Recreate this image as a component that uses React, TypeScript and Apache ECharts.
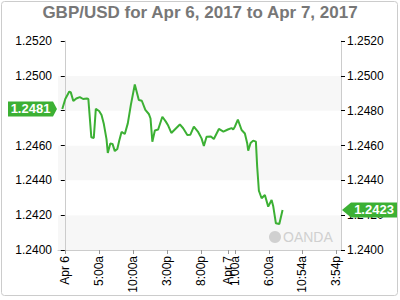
import React, { useEffect, useRef } from "react";
import * as echarts from "echarts";

// hours since Apr 6, 2017 00:00
const times = [-0.37,0.07,0.66,0.88,1.25,1.69,2.21,2.69,3.24,3.46,3.90,4.26,4.56,5.04,5.40,5.74,6.13,6.32,6.69,7.01,7.35,7.72,7.99,8.34,8.82,9.26,9.71,10.29,10.88,11.32,11.84,12.35,12.60,12.87,13.24,13.72,14.34,14.85,15.15,15.66,16.91,17.40,18.01,18.46,18.97,19.56,20.10,20.44,20.84,21.47,21.91,22.65,23.31,23.97,24.51,24.75,25.00,25.44,25.99,26.47,26.81,26.96,27.31,27.69,28.09,28.28,28.53,28.93,29.41,29.90,30.40,30.63,31.03,31.53,32.01];
const rates = [1.2481,1.24867,1.2491,1.24905,1.24855,1.2487,1.24878,1.24867,1.2487,1.24867,1.24647,1.24643,1.2481,1.24798,1.24775,1.24723,1.24637,1.24557,1.24611,1.24609,1.24568,1.2458,1.24626,1.24678,1.24666,1.24727,1.24833,1.2495,1.24861,1.24857,1.24804,1.24781,1.24755,1.24622,1.24686,1.24692,1.24765,1.24737,1.24718,1.24672,1.24721,1.24699,1.2466,1.24662,1.24708,1.2468,1.24641,1.24597,1.2465,1.24652,1.24637,1.24695,1.2468,1.24692,1.247,1.24692,1.24708,1.24749,1.24689,1.24669,1.24613,1.2457,1.24614,1.24628,1.24622,1.24478,1.2434,1.24297,1.24316,1.24249,1.24287,1.24253,1.24153,1.24149,1.2423];
const xTickHours = [0, 5, 10, 15, 20, 24, 25, 30, 34.9, 39.9];
const xTickLabels = ["Apr 6", "5:00a", "10:00a", "3:00p", "8:00p", "Apr 7", "1:00a", "6:00a", "10:54a", "3:54p"];
const yMin = 1.24;
const yMax = 1.252;
const yStep = 0.002;
const title = "GBP/USD for Apr 6, 2017 to Apr 7, 2017";

const FONT = "'Liberation Sans', Arial, sans-serif";
const GREEN = "#3cb034";

export default function App() {
  const ref = useRef<HTMLDivElement>(null);
  useEffect(() => {
    document.body.style.margin = "0";
    const chart = echarts.init(ref.current!, null, { renderer: "svg" });
    const yAxisCommon = {
      type: "value",
      min: yMin,
      max: yMax,
      interval: yStep,
      axisLine: { show: true, lineStyle: { color: "#cccccc" } },
      axisTick: { show: true, length: 4, lineStyle: { color: "#000" } },
      splitLine: { show: false },
      axisLabel: {
        color: "#000",
        fontSize: 12,
        fontFamily: FONT,
        margin: 6,
        formatter: (v: number) => v.toFixed(4),
      },
    };
    const fmtX = (v: number) => {
      const i = xTickHours.findIndex((h) => Math.abs(h - v) < 1e-6);
      return i >= 0 ? xTickLabels[i] : "";
    };
    chart.setOption({
      animation: false,
      title: {
        text: title,
        left: "center",
        top: 0,
        padding: [4, 5],
        textStyle: { color: "#777777", fontSize: 17, fontWeight: "bold", fontFamily: FONT },
      },
      grid: { left: 58, right: 59, top: 41, bottom: 50 },
      xAxis: {
        type: "value",
        min: -1,
        max: 40.6,
        axisLine: { show: true, lineStyle: { color: "#cccccc" } },
        axisTick: { show: true, length: 4, customValues: xTickHours, lineStyle: { color: "#999" } },
        splitLine: { show: false },
        axisLabel: {
          customValues: xTickHours,
          rotate: 90,
          color: "#000",
          fontSize: 12,
          fontFamily: FONT,
          margin: 6,
          formatter: fmtX,
        },
      },
      yAxis: [
        {
          ...yAxisCommon,
          position: "left",
          splitArea: { show: true, areaStyle: { color: ["#f7f7f7", "#ffffff"] } },
        },
        { ...yAxisCommon, position: "right" },
      ],
      series: [
        {
          type: "line",
          data: times.map((t, i) => [t, rates[i]]),
          showSymbol: false,
          symbol: "none",
          lineStyle: { color: GREEN, width: 2 },
          z: 5,
        },
      ],
    });

    const first = rates[0];
    const last = rates[rates.length - 1];
    const yL = chart.convertToPixel({ yAxisIndex: 0 }, first) as number;
    const yR = chart.convertToPixel({ yAxisIndex: 1 }, last) as number;
    const xL = chart.convertToPixel({ xAxisIndex: 0 }, -1) as number;
    const xR = chart.convertToPixel({ xAxisIndex: 0 }, 40.6) as number;
    const h = 7.5;

    chart.setOption({
      graphic: [
        {
          type: "rect",
          silent: true,
          shape: { x: 1.5, y: 1.5, width: 396, height: 294, r: 3 },
          style: { fill: "none", stroke: "#cccccc", lineWidth: 1 },
          z: -10,
        },
        {
          type: "polygon",
          shape: { points: [[8, yL - h], [xL - 5, yL - h], [xL - 1, yL], [xL - 5, yL + h], [8, yL + h]] },
          style: { fill: GREEN },
          z: 100,
        },
        {
          type: "text",
          x: (8 + xL - 5) / 2,
          y: yL,
          style: { text: first.toFixed(4), fill: "#fff", font: `bold 13px ${FONT}`, align: "center", verticalAlign: "middle" },
          z: 101,
        },
        {
          type: "polygon",
          shape: { points: [[xR + 1, yR], [xR + 10, yR - h], [397, yR - h], [397, yR + h], [xR + 10, yR + h]] },
          style: { fill: GREEN },
          z: 100,
        },
        {
          type: "text",
          x: (xR + 10 + 397) / 2,
          y: yR,
          style: { text: last.toFixed(4), fill: "#fff", font: `bold 13px ${FONT}`, align: "center", verticalAlign: "middle" },
          z: 101,
        },
        {
          type: "circle",
          shape: { cx: 275, cy: 237, r: 6 },
          style: { fill: "#d0d0d0" },
          z: 3,
        },
        {
          type: "text",
          x: 283,
          y: 237,
          style: { text: "OANDA", fill: "#d0d0d0", font: `14px ${FONT}`, verticalAlign: "middle" },
          z: 3,
        },
      ],
    });
    return () => chart.dispose();
  }, []);
  return <div ref={ref} style={{ width: 400, height: 300, position: "absolute", left: 0, top: 0 }} />;
}
